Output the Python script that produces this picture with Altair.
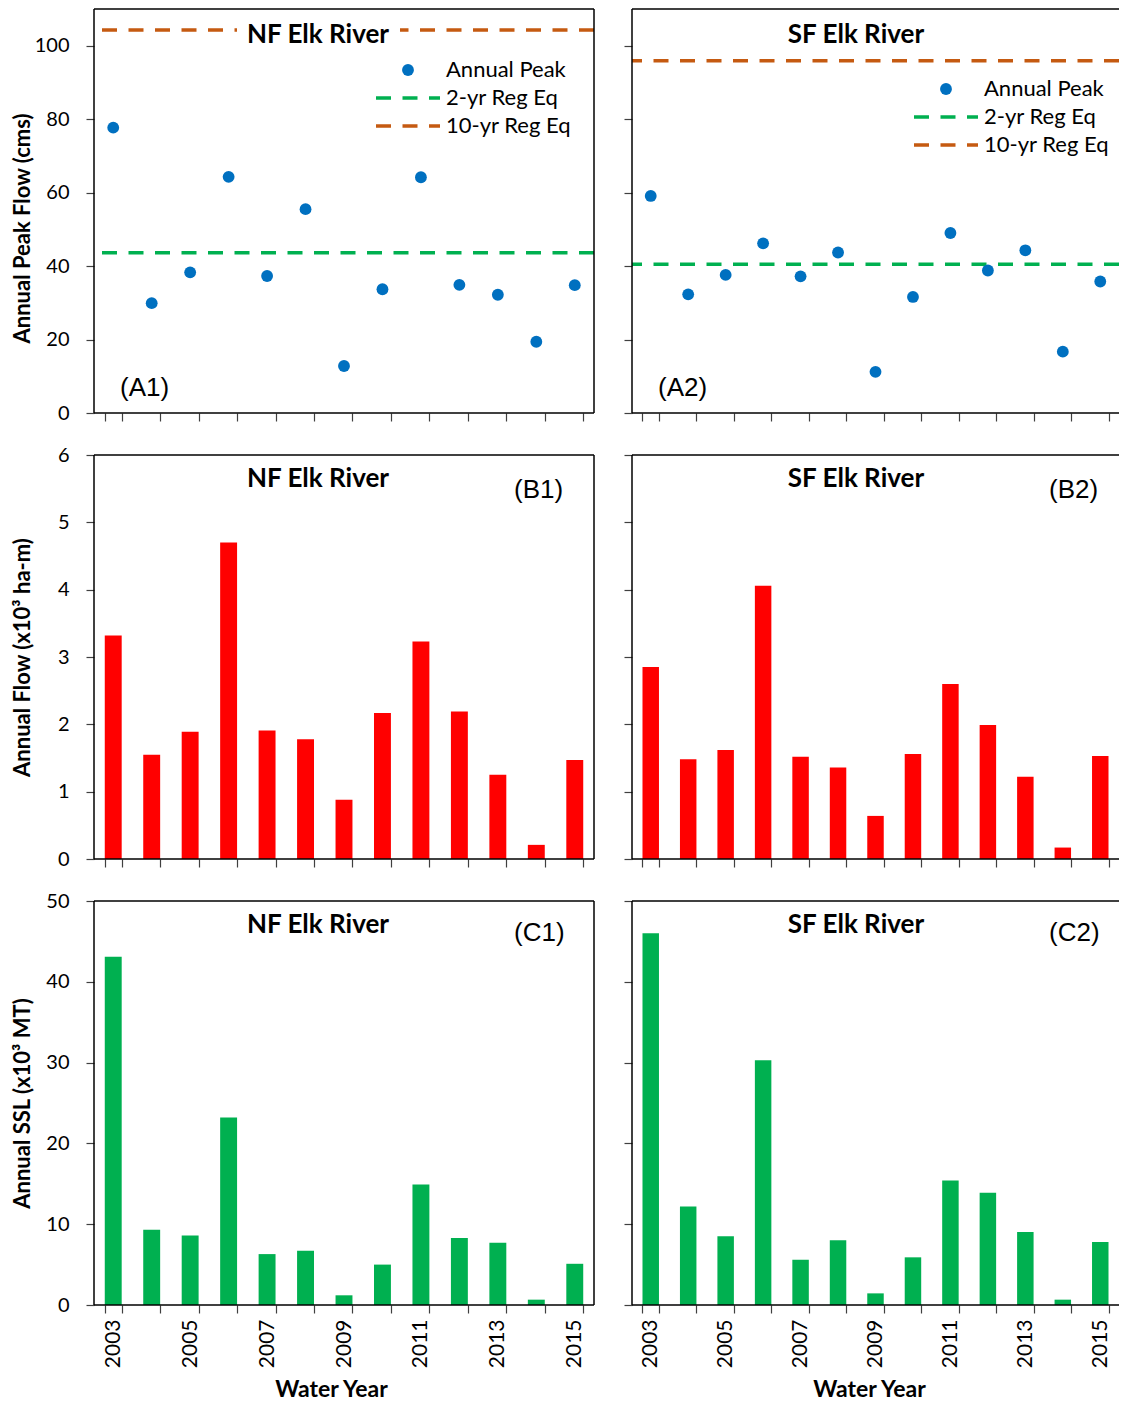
import altair as alt
import pandas as pd

# ---------------- data ----------------
years = ["2003", "2004", "2005", "2006", "2007", "2008", "2009",
         "2010", "2011", "2012", "2013", "2014", "2015"]

nf_peak = [77.7, 29.9, 38.3, 64.3, 37.3, 55.5, 12.8, 33.7, 64.2, 34.9, 32.2, 19.4, 34.8]
sf_peak = [59.1, 32.3, 37.6, 46.2, 37.2, 43.7, 11.2, 31.6, 49.0, 38.8, 44.3, 16.7, 35.8]

nf_flow = [3.32, 1.55, 1.89, 4.70, 1.91, 1.78, 0.88, 2.17, 3.23, 2.19, 1.25, 0.21, 1.47]
sf_flow = [2.85, 1.48, 1.62, 4.06, 1.52, 1.36, 0.64, 1.56, 2.60, 1.99, 1.22, 0.17, 1.53]

nf_ssl = [43.1, 9.3, 8.6, 23.2, 6.3, 6.7, 1.2, 5.0, 14.9, 8.3, 7.7, 0.66, 5.1]
sf_ssl = [46.0, 12.2, 8.5, 30.3, 5.6, 8.0, 1.44, 5.9, 15.4, 13.9, 9.05, 0.66, 7.8]

reg_labels = ["2-yr Reg Eq", "10-yr Reg Eq"]
nf_reg = [43.6, 104.3]
sf_reg = [40.5, 95.9]

sites = ["NF Elk River", "SF Elk River"]
panel_tags = [["(A1)", "(A2)"], ["(B1)", "(B2)"], ["(C1)", "(C2)"]]
y_titles = ["Annual Peak Flow (cms)", "Annual Flow (x10³ ha-m)", "Annual SSL (x10³ MT)"]
y_domains = [[0, 110], [0, 6], [0, 50]]
y_ticks = [[0, 20, 40, 60, 80, 100], [0, 1, 2, 3, 4, 5, 6], [0, 10, 20, 30, 40, 50]]
legend_point_label = "Annual Peak"
x_title = "Water Year"

# ---------------- style ----------------
FONT = "Lato"
WL, WR, H = 500, 487, 404
TICK = "#404040"
BLUE = "#0070C0"
GREEN_LINE = "#00B050"
ORANGE = "#C55A11"
RED = "#FF0000"
GREEN_BAR = "#00B050"
reg_colors = [GREEN_LINE, ORANGE]
DASH = [15, 11.5]

XS = alt.Scale(type="band", paddingInner=0.56, paddingOuter=0.28)


def one(text):
    return alt.Chart(pd.DataFrame({"t": [text]}))


def x_enc(bottom):
    ax = dict(tickBand="extent", tickSize=8, tickColor=TICK, tickWidth=1.2,
              domain=False, grid=False, labels=bottom, labelOverlap=False)
    if bottom:
        ax.update(labelAngle=270, labelFont=FONT, labelFontSize=21, labelColor="black",
                  labelPadding=6,
                  labelExpr="toNumber(datum.value) % 2 == 1 ? datum.label : ''",
                  title=x_title, titleFont=FONT, titleFontSize=23, titleFontWeight="bold",
                  titleColor="black", titleX=237, titleY=91, titleAlign="center",
                  titleBaseline="alphabetic")
        return alt.X("year:O", scale=XS, axis=alt.Axis(**ax))
    return alt.X("year:O", scale=XS, axis=alt.Axis(**ax), title=None)


def y_enc(row, left):
    sc = alt.Scale(domain=y_domains[row], nice=False, zero=True)
    ax = dict(values=y_ticks[row], tickSize=8, tickColor=TICK, tickWidth=1.2,
              domain=False, grid=False, labels=left)
    if left:
        ax.update(labelFont=FONT, labelFontSize=20, labelColor="black", labelPadding=17,
                  title=y_titles[row], titleFont=FONT, titleFontSize=22,
                  titleFontWeight="bold", titleColor="black", titleX=-65,
                  titleBaseline="alphabetic", titleAngle=270, titleAlign="center")
        if row == 0:
            ax["titleY"] = 219
        return alt.Y("v:Q", scale=sc, axis=alt.Axis(**ax))
    return alt.Y("v:Q", scale=sc, axis=alt.Axis(**ax), title=None)


def frame_layers(col):
    w = [WL, WR][col]
    base = one("")
    lay = [
        base.mark_rule(color="black", strokeWidth=1.5).encode(
            x=alt.value(0), x2=alt.value(w), y=alt.value(0)),
        base.mark_rule(color="black", strokeWidth=1.5).encode(
            x=alt.value(0), x2=alt.value(w), y=alt.value(H)),
        base.mark_rule(color="black", strokeWidth=1.5).encode(
            x=alt.value(0), y=alt.value(0), y2=alt.value(H)),
    ]
    if col == 0:
        lay.append(base.mark_rule(color="black", strokeWidth=1.5).encode(
            x=alt.value(w), y=alt.value(0), y2=alt.value(H)))
    return lay


def title_layer(col, ty):
    return one(sites[col]).mark_text(font=FONT, fontSize=26, fontWeight="bold", color="black",
                                     align="center", baseline="middle").encode(
        text="t:N", x=alt.value(224), y=alt.value(ty))


def tag_layer(row, col, tx, ty):
    return one(panel_tags[row][col]).mark_text(font="Liberation Sans", fontSize=26,
                                               color="black", align="left",
                                               baseline="middle").encode(
        text="t:N", x=alt.value(tx), y=alt.value(ty))


def panel_a(col):
    peaks = [nf_peak, sf_peak][col]
    reg = [nf_reg, sf_reg][col]
    df = pd.DataFrame({"year": years, "v": peaks})
    rdf = pd.DataFrame({"name": reg_labels, "v": reg, "c": reg_colors})
    x = x_enc(False)
    y = y_enc(0, col == 0)
    rules = alt.Chart(rdf).mark_rule(strokeDash=DASH, strokeWidth=3.5).encode(
        y=y, color=alt.Color("c:N", scale=None))
    pts = alt.Chart(df).mark_circle(size=140, color=BLUE, opacity=1).encode(x=x, y=y)
    layers = [rules, pts]
    if col == 0:
        layers.append(one("").mark_rect(color="white").encode(
            x=alt.value(143), x2=alt.value(306), y=alt.value(10), y2=alt.value(42)))
    layers.append(title_layer(col, 26))
    layers.append(tag_layer(0, col, 26, 379))
    # legend
    ly = 61 if col == 0 else 80
    layers.append(one(legend_point_label).mark_circle(size=140, color=BLUE, opacity=1).encode(
        x=alt.value(314), y=alt.value(ly)))
    for i, lab in enumerate([legend_point_label] + reg_labels):
        yy = ly + [0, 28, 56][i]
        layers.append(one(lab).mark_text(font=FONT, fontSize=22, color="black", align="left",
                                         baseline="middle").encode(
            text="t:N", x=alt.value(352), y=alt.value(yy)))
        if i > 0:
            layers.append(one(lab).mark_rule(strokeDash=DASH, strokeWidth=3.5,
                                             color=reg_colors[i - 1]).encode(
                x=alt.value(282), x2=alt.value(346), y=alt.value(yy)))
    layers += frame_layers(col)
    return alt.layer(*layers).properties(width=[WL, WR][col], height=H)


def panel_bar(row, col, values, color, bottom):
    df = pd.DataFrame({"year": years, "v": values})
    bars = alt.Chart(df).mark_bar(color=color).encode(x=x_enc(bottom), y=y_enc(row, col == 0))
    tx = 420 if col == 0 else 417
    ty = 34.6 if row == 1 else 32
    layers = [bars, title_layer(col, 23.5), tag_layer(row, col, tx, ty)] + frame_layers(col)
    return alt.layer(*layers).properties(width=[WL, WR][col], height=H)


a1 = panel_a(0)
a2 = panel_a(1)
b1 = panel_bar(1, 0, nf_flow, RED, False)
b2 = panel_bar(1, 1, sf_flow, RED, False)
c1 = panel_bar(2, 0, nf_ssl, GREEN_BAR, True)
c2 = panel_bar(2, 1, sf_ssl, GREEN_BAR, True)

chart = alt.concat(a1, a2, b1, b2, c1, c2, columns=2, align="each",
                   spacing={"row": 22, "column": 25}).properties(
    padding={"left": 3, "top": 0, "right": 0, "bottom": 0},
    background="white",
).configure_view(strokeWidth=0, stroke="transparent")

chart.save("out.html", embed_options={"renderer": "svg", "actions": False})
